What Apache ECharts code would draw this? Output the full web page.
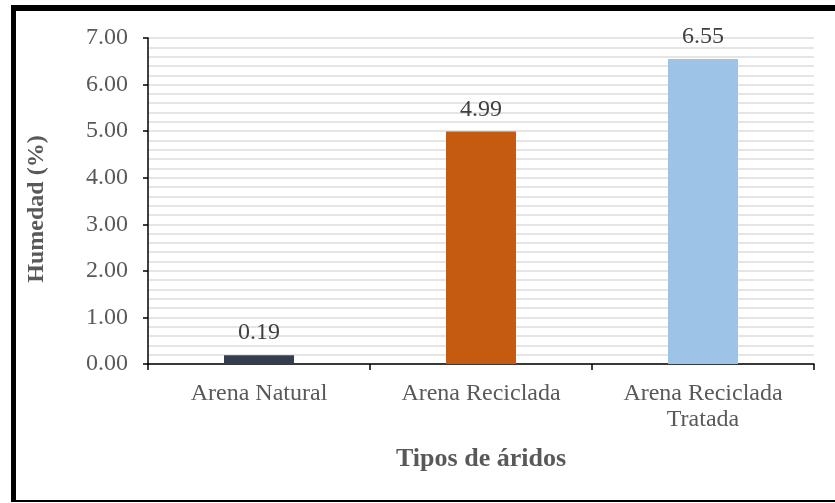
<!DOCTYPE html>
<html>
<head>
<meta charset="utf-8">
<script src="https://cdn.jsdelivr.net/npm/echarts@6/dist/echarts.min.js"></script>
<style>
  html, body { margin: 0; padding: 0; background: #fff; }
  #chart { width: 835px; height: 503px; }
</style>
</head>
<body>
<div id="chart"></div>
<script>
// Moisture content by aggregate type
const categories = ['Arena Natural', 'Arena Reciclada', 'Arena Reciclada\nTratada'];
const humedad = [0.19, 4.99, 6.55];
const barColors = ['#333F50', '#C55A11', '#9DC3E6'];
const yTicks = { min: 0, max: 7, interval: 1 };

const font = '"Liberation Serif", "Times New Roman", serif';
const chart = echarts.init(document.getElementById('chart'), null, { renderer: 'canvas' });

chart.setOption({
  animation: false,
  backgroundColor: '#fff',
  grid: { left: 148, right: 21, top: 38, bottom: 139, containLabel: false },
  graphic: [
    // frame around the figure
    { type: 'rect', shape: { x: 11, y: 5, width: 5, height: 497 }, style: { fill: '#000' } },
    { type: 'rect', shape: { x: 11, y: 5, width: 824, height: 6 }, style: { fill: '#000' } },
    { type: 'rect', shape: { x: 11, y: 500, width: 824, height: 2 }, style: { fill: '#000' } }
  ],
  xAxis: {
    type: 'category',
    data: categories,
    name: 'Tipos de áridos',
    nameLocation: 'middle',
    nameGap: 82,
    nameTextStyle: { fontFamily: font, fontSize: 26, fontWeight: 'bold', color: '#595959' },
    axisLine: { lineStyle: { color: '#000', width: 1.5 } },
    axisTick: { show: true, length: 6, alignWithLabel: false, lineStyle: { color: '#000', width: 1.5 } },
    axisLabel: { fontFamily: font, fontSize: 24, color: '#595959', margin: 17, lineHeight: 26 },
    splitLine: { show: false }
  },
  yAxis: {
    type: 'value',
    min: yTicks.min,
    max: yTicks.max,
    interval: yTicks.interval,
    name: 'Humedad (%)',
    nameLocation: 'middle',
    nameGap: 99,
    nameTextStyle: {
      fontFamily: font, fontSize: 24, fontWeight: 'bold', color: '#595959',
      padding: [0, 16, 0, 0]
    },
    axisLine: { show: true, lineStyle: { color: '#000', width: 1.5 } },
    axisTick: { show: true, length: 5, lineStyle: { color: '#000', width: 1.5 } },
    axisLabel: {
      fontFamily: font, fontSize: 24, color: '#595959', margin: 20,
      formatter: v => v.toFixed(2)
    },
    splitLine: { show: true, lineStyle: { color: '#DDDDDD', width: 1.5 } },
    minorTick: { show: false, splitNumber: 5 },
    minorSplitLine: { show: true, lineStyle: { color: '#DDDDDD', width: 1.5 } }
  },
  series: [{
    type: 'bar',
    barWidth: 70,
    data: humedad.map((v, i) => ({ value: v, itemStyle: { color: barColors[i] } })),
    label: {
      show: true,
      position: 'top',
      distance: 10,
      fontFamily: font,
      fontSize: 24,
      color: '#404040',
      formatter: p => p.value.toFixed(2)
    }
  }]
});
</script>
</body>
</html>
